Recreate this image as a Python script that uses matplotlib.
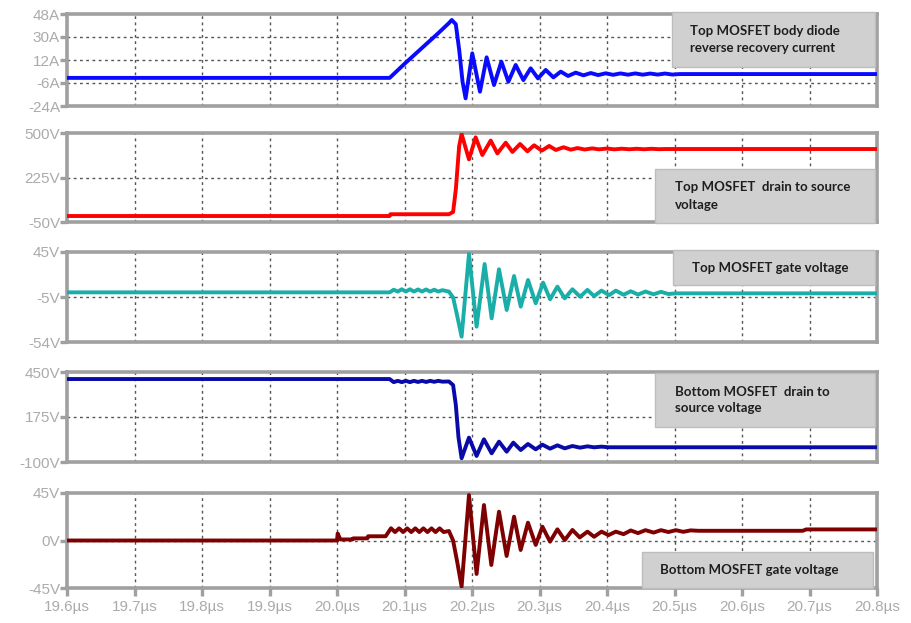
import matplotlib
matplotlib.use("Agg")
import matplotlib.pyplot as plt
from matplotlib.patches import Rectangle

# time axis (microseconds)
x_ticks = [19.6, 19.7, 19.8, 19.9, 20.0, 20.1, 20.2, 20.3, 20.4, 20.5, 20.6, 20.7, 20.8]
x_labels = ["19.6µs", "19.7µs", "19.8µs", "19.9µs", "20.0µs", "20.1µs", "20.2µs",
            "20.3µs", "20.4µs", "20.5µs", "20.6µs", "20.7µs", "20.8µs"]

# top MOSFET body diode current (A)
t_i = [19.6, 20.078, 20.100, 20.125, 20.150, 20.166, 20.170, 20.176, 20.181, 20.186, 20.1905,
       20.2004, 20.2118, 20.2217, 20.2326, 20.2435, 20.2539, 20.2647, 20.2761, 20.2869, 20.2978,
       20.3092, 20.3206, 20.3315, 20.3423, 20.3537, 20.3651, 20.3760, 20.3868, 20.3982, 20.409,
       20.420, 20.431, 20.442, 20.453, 20.464, 20.475, 20.486, 20.497, 20.508, 20.8]
i_top = [-2, -2, 9, 21, 33, 41, 43.3, 40, 20, -5, -18,
         17.2, -12.8, 14.1, -7.6, 10.7, -5.0, 8.1, -3.7, 5.5, -2.4,
         4.2, -1.6, 2.9, -0.5, 2.1, 0.0, 1.8, 0.2, 1.6, 0.4,
         1.5, 0.5, 1.5, 0.5, 1.4, 0.6, 1.4, 0.6, 1.0, 1.0]

# top MOSFET drain-source voltage (V)
t_vt = [19.6, 20.078, 20.079, 20.1658, 20.172, 20.176, 20.181, 20.1846,
        20.1955, 20.2054, 20.2153, 20.2277, 20.2376, 20.2500, 20.2599, 20.2712, 20.2821,
        20.2920, 20.3034, 20.3143, 20.3242, 20.3356, 20.3464, 20.3563, 20.367, 20.378,
        20.388, 20.400, 20.411, 20.422, 20.433, 20.444, 20.455, 20.466, 20.477, 20.487, 20.8]
v_top = [-13, -13, -2, -2, 12, 150, 420, 494,
         337, 473, 364, 453, 374, 440, 383, 432, 387,
         424, 391, 420, 395, 412, 397, 407, 398, 405,
         399, 404, 399, 403, 399.5, 402.5, 399.5, 402.5, 400, 401, 401]

# top MOSFET gate voltage (V)
t_gt = [19.6, 20.078, 20.084, 20.090, 20.096, 20.102, 20.108, 20.114, 20.120, 20.126,
        20.132, 20.138, 20.144, 20.150, 20.156, 20.1658, 20.172, 20.178, 20.1846,
        20.1955, 20.2068, 20.2187, 20.2291, 20.2400, 20.2514, 20.2623, 20.2722, 20.2830,
        20.2944, 20.3053, 20.3157, 20.3265, 20.3374, 20.3488, 20.3602, 20.3710, 20.3809,
        20.3918, 20.4032, 20.4131, 20.4245, 20.4352, 20.446, 20.457, 20.469, 20.480,
        20.491, 20.502, 20.8]
g_top = [0.6, 0.6, 3.5, 1.5, 4.0, 1.5, 4.0, 1.5, 3.8, 1.5,
         3.8, 1.5, 3.5, 1.5, 3.0, 1.5, -5, -25, -48.1,
         42.8, -37.1, 31.8, -28, 26, -18.8, 18.6, -15.1, 14.2,
         -11.4, 11.3, -7, 6.9, -6, 4, -4.2, 3.3, -3.5,
         2.5, -2.4, 2.5, -2, 1.8, -1.8, 1.5, -1.5, 1.2,
         -1.2, -0.5, -0.5]

# bottom MOSFET drain-source voltage (V)
t_vb = [19.6, 20.078, 20.084, 20.090, 20.096, 20.102, 20.108, 20.114, 20.120, 20.126,
        20.132, 20.138, 20.144, 20.150, 20.156, 20.1658, 20.172, 20.176, 20.180, 20.1846,
        20.1955, 20.2068, 20.2177, 20.2291, 20.2400, 20.2514, 20.2612, 20.2722, 20.2829,
        20.2944, 20.3043, 20.3157, 20.3265, 20.3374, 20.3488, 20.3602, 20.3711, 20.3809,
        20.3918, 20.4022, 20.8]
v_bot = [407, 407, 388, 396, 388, 396, 388, 396, 389, 396,
         389, 396, 390, 396, 391, 392, 370, 250, 50, -77,
         49, -63, 38.6, -47, 24.3, -37, 18.3, -26.6, 10,
         -22.6, 5.9, -18.5, 1.8, -16.5, -2.2, -12.4, -4.2, -10.3,
         -6.2, -10, -10]

# bottom MOSFET gate voltage (V)
t_gb = [19.6, 20.000, 20.001, 20.005, 20.023, 20.024, 20.045, 20.046, 20.072, 20.080,
        20.086, 20.092, 20.098, 20.104, 20.110, 20.116, 20.122, 20.128, 20.134, 20.140,
        20.146, 20.152, 20.158, 20.1658, 20.172, 20.178, 20.1846,
        20.1955, 20.2068, 20.2177, 20.2286, 20.2400, 20.2513, 20.2623, 20.2721, 20.2829,
        20.2944, 20.3043, 20.3156, 20.3265, 20.3374, 20.3488, 20.3596, 20.3711, 20.3809,
        20.3918, 20.4022, 20.4131, 20.4245, 20.4352, 20.446, 20.457, 20.469, 20.480,
        20.491, 20.502, 20.513, 20.524, 20.535, 20.69, 20.695, 20.8]
g_bot = [0, 0, 6.6, 1, 1, 2, 2, 4, 4, 11.6,
         8, 11.5, 8, 11.5, 8, 11.5, 8, 11.5, 8, 11.5,
         8, 11.5, 8, 9, 0, -20, -43.7,
         43.1, -31.7, 33.6, -23.2, 27.3, -14.7, 22.6, -9, 16.9,
         -4.2, 13.1, -1.1, 10.6, 0.4, 10, 2.9, 8.4, 3.5,
         8.4, 5.1, 8.4, 6.0, 9.5, 7, 9.8, 7.5, 9.8,
         8, 9.8, 8.2, 9.6, 9.2, 9.2, 10.5, 10.5]

panels = [
    (t_i, i_top, "#0a0aff", [-24, -6, 12, 30, 48], ["-24A", "-6A", "12A", "30A", "48A"]),
    (t_vt, v_top, "#ff0000", [-50, 225, 500], ["-50V", "225V", "500V"]),
    (t_gt, g_top, "#1aaea8", [-54, -5, 45], ["-54V", "-5V", "45V"]),
    (t_vb, v_bot, "#0a0aa8", [-100, 175, 450], ["-100V", "175V", "450V"]),
    (t_gb, g_bot, "#7f0000", [-45, 0, 45], ["-45V", "0V", "45V"]),
]

# panel top/bottom in pixels
panel_px = [(14, 106), (133, 222), (252, 342), (372, 462), (493, 588)]

W, H = 912, 623
fig = plt.figure(figsize=(W / 100, H / 100), dpi=100)
fig.patch.set_facecolor("white")

frame_col = "#a0a0a0"
label_col = "#ababab"

for k, (t, v, col, yt, yl) in enumerate(panels):
    top, bot = panel_px[k]
    ax = fig.add_axes([67 / W, 1 - bot / H, (877 - 67) / W, (bot - top) / H])
    ax.plot(t, v, color=col, lw=2.8, solid_joinstyle="round", solid_capstyle="round", zorder=3)
    ax.set_xlim(19.6, 20.8)
    ax.set_ylim(yt[0], yt[-1])
    ax.set_xticks(x_ticks)
    ax.set_yticks(yt)
    ax.set_yticklabels(yl, fontsize=11, color=label_col, family="Liberation Sans")
    for s in ax.spines.values():
        s.set_color(frame_col)
        s.set_linewidth(2.6)
    ax.tick_params(axis="y", length=5, width=2.4, color=frame_col, pad=0)
    if k == 4:
        ax.set_xticklabels(x_labels, fontsize=11, color=label_col, family="Liberation Sans")
        ax.tick_params(axis="x", length=6, width=2.4, color=frame_col, pad=3)
    else:
        ax.tick_params(axis="x", length=0, labelbottom=False)
    for xv in x_ticks[1:-1]:
        ax.axvline(xv, color="#555555", lw=1, ls=(0, (2, 2.5)), zorder=1)
    for yv in yt[1:-1]:
        ax.axhline(yv, color="#555555", lw=1, ls=(0, (2, 2.5)), zorder=1)


def note(x0, y0, x1, y1, lines, tx):
    fig.add_artist(Rectangle((x0 / W, 1 - y1 / H), (x1 - x0) / W, (y1 - y0) / H,
                             transform=fig.transFigure, facecolor="#d0d0d0",
                             edgecolor="#bdbdbd", lw=1, zorder=5))
    n = len(lines)
    yc = (y0 + y1) / 2
    for j, s in enumerate(lines):
        yy = yc + (j - (n - 1) / 2) * 17
        fig.text(tx / W, 1 - yy / H, s, fontsize=9.5, fontweight="bold", family="Lato",
                 color="#1e1e1e", va="center", ha="left", zorder=6)


note(672, 12, 875, 67, ["Top MOSFET body diode", "reverse recovery current"], 690)
note(655, 169, 875, 223, ["Top MOSFET  drain to source", "voltage"], 675)
note(673, 250, 875, 285, ["Top MOSFET gate voltage"], 692)
note(655, 373, 875, 427, ["Bottom MOSFET  drain to", "source voltage"], 675)
note(642, 552, 873, 588, ["Bottom MOSFET gate voltage"], 660)

fig.savefig("out.png", dpi=100)
